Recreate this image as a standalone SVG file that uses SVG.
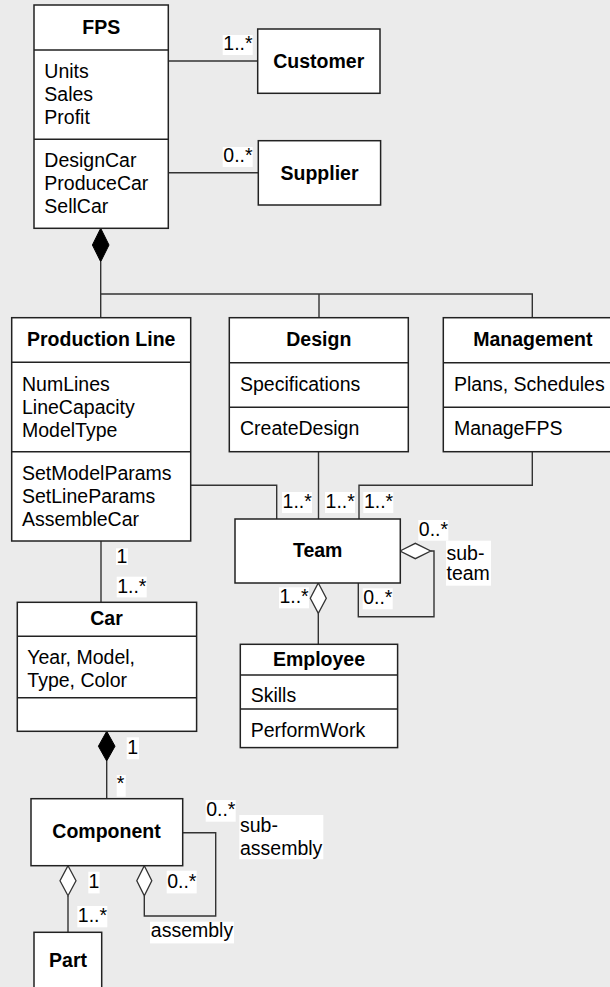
<svg xmlns="http://www.w3.org/2000/svg" width="610" height="987" viewBox="0 0 610 987">
<style>
text{font-family:"Liberation Sans",Arial,Helvetica,sans-serif;font-size:19.5px;fill:#000}
.t{font-weight:bold;text-anchor:middle}
.box{fill:#fff;stroke:#222;stroke-width:1.5}
.div{stroke:#222;stroke-width:1.5;fill:none}
.ln{fill:none;stroke:#333;stroke-width:1.4}
.fd{fill:#000;stroke:#000;stroke-width:1}
.hd{fill:#fff;stroke:#333;stroke-width:1.3}
.lb{fill:#fff}
</style>
<rect x="0" y="0" width="610" height="987" fill="#ebebeb"/>

<g id="connectors">
<path class="ln" d="M168.3,61 H257.7"/>
<path class="ln" d="M168.3,172.7 H258.3"/>
<path class="ln" d="M100.7,261.7 V294 H532.3 V317.7 M100.7,294 V317.7 M319,294 V317.7"/>
<polygon class="fd" points="100.7,228.3 109,245 100.7,261.7 92.4,245"/>
<path class="ln" d="M190.7,485.3 H276.7 V519"/>
<path class="ln" d="M318.5,451.7 V519"/>
<path class="ln" d="M532.3,451.7 V485.3 H359 V519"/>
<path class="ln" d="M430.7,551 H434 V616.7 H358.3 V583"/>
<polygon class="hd" points="400,551 415.3,543.3 430.7,551 415.3,558.7"/>
<path class="ln" d="M318.3,613.3 V644.3"/>
<polygon class="hd" points="318.3,583 326.3,598.2 318.3,613.3 310.3,598.2"/>
<path class="ln" d="M101,541 V602.3"/>
<path class="ln" d="M106.7,761 V798.7"/>
<polygon class="fd" points="106.7,731.3 115,746.2 106.7,761 98.4,746.2"/>
<path class="ln" d="M182.7,832.7 H215.7 V916 H144.3 V895.7"/>
<polygon class="hd" points="144.3,865.7 151.8,880.7 144.3,895.7 136.8,880.7"/>
<path class="ln" d="M68,895.7 V932.3"/>
<polygon class="hd" points="68,865.7 76,880.7 68,895.7 60,880.7"/>
</g>

<g id="labels">
<rect class="lb" x="222.7" y="35" width="30" height="20"/><text x="223.3" y="50">1..*</text>
<rect class="lb" x="222.7" y="147" width="30" height="20"/><text x="223.3" y="161.7">0..*</text>
<rect class="lb" x="282" y="492" width="30" height="21"/><text x="282.6" y="507.7">1..*</text>
<rect class="lb" x="325" y="492" width="30" height="21"/><text x="325.6" y="507.7">1..*</text>
<rect class="lb" x="363.3" y="492" width="30" height="21"/><text x="363.9" y="507.7">1..*</text>
<rect class="lb" x="418.3" y="520" width="30" height="20.7"/><text x="418.8" y="536">0..*</text>
<rect class="lb" x="446" y="540.7" width="45" height="45"/><text x="446.5" y="560">sub-</text><text x="446.5" y="580">team</text>
<rect class="lb" x="362.7" y="588.3" width="30" height="21"/><text x="363.2" y="604">0..*</text>
<rect class="lb" x="279" y="587.3" width="30" height="21"/><text x="279.4" y="603.3">1..*</text>
<rect class="lb" x="116" y="548.3" width="12" height="16.7"/><text x="116.5" y="563.3">1</text>
<rect class="lb" x="116.7" y="576.7" width="30" height="20.7"/><text x="117.2" y="592.7">1..*</text>
<rect class="lb" x="126.7" y="737.3" width="12.3" height="22"/><text x="127.2" y="754">1</text>
<rect class="lb" x="116.7" y="775" width="9" height="21.7"/><text x="116.8" y="790">*</text>
<rect class="lb" x="205.7" y="800" width="30" height="21.7"/><text x="206.2" y="816">0..*</text>
<rect class="lb" x="239.3" y="815" width="84" height="44.3"/><text x="240" y="832">sub-</text><text x="240" y="855">assembly</text>
<rect class="lb" x="88.3" y="871.7" width="11.3" height="21.7"/><text x="88.6" y="888.3">1</text>
<rect class="lb" x="166.7" y="870.7" width="30" height="22.7"/><text x="167.2" y="888.3">0..*</text>
<rect class="lb" x="77.3" y="906" width="30" height="21.3"/><text x="77.8" y="921.7">1..*</text>
<rect class="lb" x="150" y="921.7" width="84" height="21.7"/><text x="150.8" y="937.3">assembly</text>
</g>

<g id="fps">
<rect class="box" x="34" y="5" width="134.3" height="223.3"/>
<path class="div" d="M34,50 H168.3 M34,139.3 H168.3"/>
<text class="t" x="101.2" y="34">FPS</text>
<text x="44.3" y="78">Units</text>
<text x="44.3" y="101">Sales</text>
<text x="44.3" y="124">Profit</text>
<text x="44.3" y="167">DesignCar</text>
<text x="44.3" y="190">ProduceCar</text>
<text x="44.3" y="213">SellCar</text>
</g>

<g id="customer">
<rect class="box" x="257.7" y="29" width="122.3" height="64.3"/>
<text class="t" x="318.8" y="68">Customer</text>
</g>

<g id="supplier">
<rect class="box" x="258.3" y="140.7" width="122.3" height="64.3"/>
<text class="t" x="319.5" y="180">Supplier</text>
</g>

<g id="production-line">
<rect class="box" x="11.7" y="317.7" width="179" height="223.3"/>
<path class="div" d="M11.7,362.3 H190.7 M11.7,451.7 H190.7"/>
<text class="t" x="101.2" y="346">Production Line</text>
<text x="22" y="391">NumLines</text>
<text x="22" y="414">LineCapacity</text>
<text x="22" y="437">ModelType</text>
<text x="22" y="480">SetModelParams</text>
<text x="22" y="503">SetLineParams</text>
<text x="22" y="526">AssembleCar</text>
</g>

<g id="design">
<rect class="box" x="229.3" y="317.7" width="179" height="134"/>
<path class="div" d="M229.3,362.7 H408.3 M229.3,407.3 H408.3"/>
<text class="t" x="318.8" y="346">Design</text>
<text x="240" y="391">Specifications</text>
<text x="240" y="435">CreateDesign</text>
</g>

<g id="management">
<rect class="box" x="443.3" y="317.7" width="179" height="134"/>
<path class="div" d="M443.3,362.7 H622.3 M443.3,407.3 H622.3"/>
<text class="t" x="532.8" y="346">Management</text>
<text x="454" y="391">Plans, Schedules</text>
<text x="454" y="435">ManageFPS</text>
</g>

<g id="team">
<rect class="box" x="235" y="519" width="165.3" height="64"/>
<text class="t" x="317.7" y="557">Team</text>
</g>

<g id="employee">
<rect class="box" x="240.3" y="644.3" width="157.3" height="103.3"/>
<path class="div" d="M240.3,675 H397.6 M240.3,709 H397.6"/>
<text class="t" x="319" y="665.7">Employee</text>
<text x="250.7" y="702.3">Skills</text>
<text x="250.7" y="736.7">PerformWork</text>
</g>

<g id="car">
<rect class="box" x="17.3" y="602.3" width="179.3" height="129"/>
<path class="div" d="M17.3,636.3 H196.6 M17.3,697.7 H196.6"/>
<text class="t" x="106.5" y="625">Car</text>
<text x="27.3" y="664.3">Year, Model,</text>
<text x="27.3" y="687.3">Type, Color</text>
</g>

<g id="component">
<rect class="box" x="31" y="798.7" width="151.7" height="67"/>
<text class="t" x="106.5" y="838.3">Component</text>
</g>

<g id="part">
<rect class="box" x="34" y="932.3" width="67.7" height="70"/>
<text class="t" x="68" y="966.5">Part</text>
</g>
</svg>
